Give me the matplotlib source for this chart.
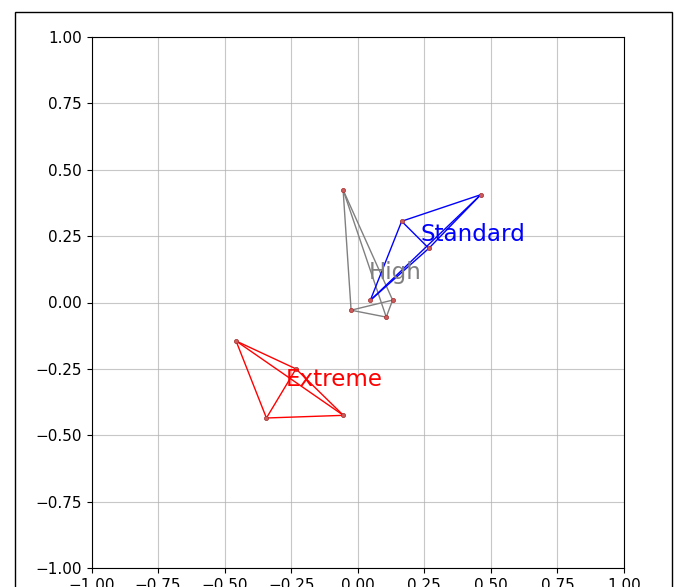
from itertools import combinations

import matplotlib
matplotlib.use("Agg")
import matplotlib.pyplot as plt
import numpy as np
from matplotlib.patches import Rectangle

# ----------------------------- Data ------------------------------------------

GROUPS = ["High", "Standard", "Extreme"]
COLORS = ["grey", "blue", "red"]

high_x = [-0.055, -0.025, 0.107, 0.131]
high_y = [0.424, -0.029, -0.055, 0.009]

standard_x = [0.047, 0.165, 0.462, 0.267]
standard_y = [0.008, 0.306, 0.406, 0.204]

extreme_x = [-0.457, -0.232, -0.343, -0.054]
extreme_y = [-0.145, -0.250, -0.435, -0.425]

ticks = [-1.0, -0.75, -0.5, -0.25, 0.0, 0.25, 0.5, 0.75, 1.0]

# ----------------------------- Figure ----------------------------------------

W, H = 674, 587
fig = plt.figure(figsize=(W / 100, H / 100), dpi=100)

# outer frame (cut off at the bottom like the reference)
fig.patches.append(Rectangle((14.5 / W, -0.2), 657 / W, (H - 12) / H + 0.2,
                             transform=fig.transFigure, fill=False,
                             edgecolor="black", linewidth=1.0, clip_on=False))

ax = fig.add_axes([91.5 / W, (H - 568) / H, 532.5 / W, 531 / H])

series = [(high_x, high_y), (standard_x, standard_y), (extreme_x, extreme_y)]
for name, color, (xs, ys) in zip(GROUPS, COLORS, series):
    xs = np.asarray(xs)
    ys = np.asarray(ys)
    for i, j in combinations(range(len(xs)), 2):
        ax.plot([xs[i], xs[j]], [ys[i], ys[j]], color=color, linewidth=1.0, zorder=2)
    ax.plot(xs, ys, "o", markersize=3.0, color="indianred", markeredgecolor="brown",
            markeredgewidth=0.5, linestyle="none", zorder=3)
    ax.text(xs.mean(), ys.mean(), name, color=color, fontsize=16.6, zorder=4)

ax.set_xlim(-1, 1)
ax.set_ylim(-1, 1)
ax.set_xticks(ticks)
ax.set_yticks(ticks)
ax.tick_params(labelsize=11)
ax.grid(True, color="#b0b0b0", linewidth=0.8, alpha=0.7)
ax.set_axisbelow(True)

fig.savefig("out.png", dpi=100)
